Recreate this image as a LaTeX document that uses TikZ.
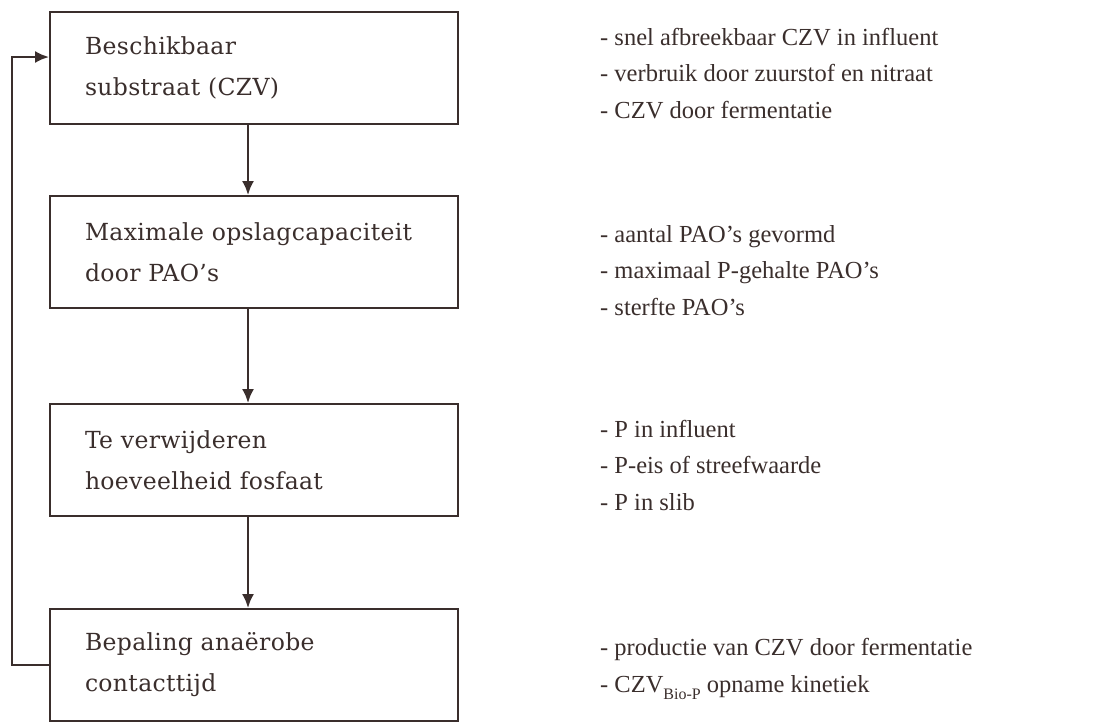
\documentclass[tikz,border=0pt]{standalone}
\usepackage{fontspec}
\setmainfont{Liberation Serif}
\newfontfamily\boxfont[LetterSpace=1.5]{DejaVu Serif}
\usetikzlibrary{arrows.meta}
\definecolor{ink}{RGB}{58,46,44}
\newcommand{\laagschrift}[1]{\raisebox{-0.3em}{\fontsize{16}{16}\selectfont #1}}
\begin{document}
\begin{tikzpicture}[x=1pt, y=-1pt, >={Latex[length=14pt,width=12pt]},
  box/.style={draw=ink, line width=1.8pt, rectangle, minimum height=112pt,
    text width=338pt, inner xsep=35pt, align=left, text=ink,
    font=\boxfont\fontsize{23.5}{41}\selectfont},
  notes/.style={anchor=base west, align=left, inner sep=0pt, text=ink,
    font=\fontsize{24.5}{36.5}\selectfont},
  flow/.style={->, draw=ink, line width=2.4pt}]
  \useasboundingbox (0,0) rectangle (1108,721);
  % stappen
  \node[box] (subst) at (254,68) {Beschikbaar\\substraat (CZV)};
  \node[box] (opslag) at (254,252) {Maximale opslagcapaciteit\\door PAO’s};
  \node[box] (fosfaat) at (254,460) {Te verwijderen\\hoeveelheid fosfaat};
  \node[box] (contact) at (254,665) {Bepaling anaërobe\\contacttijd};

  % pijlen
  \draw[flow] ([xshift=-6pt]subst.south) -- ([xshift=-6pt]opslag.north);
  \draw[flow] ([xshift=-6pt]opslag.south) -- ([xshift=-6pt]fosfaat.north);
  \draw[flow] ([xshift=-6pt]fosfaat.south) -- ([xshift=-6pt]contact.north);
  % terugkoppeling
  \draw[flow] (contact.west) -- ++(-37,0) |- ([yshift=11pt]subst.west);

  % factoren
  \node[notes] (n1) at (600,118) {- snel afbreekbaar CZV in influent\\- verbruik door zuurstof en nitraat\\- CZV door fermentatie};
  \node[notes] (n2) at (600,315) {- aantal PAO’s gevormd\\- maximaal P-gehalte PAO’s\\- sterfte PAO’s};
  \node[notes] (n3) at (600,510) {- P in influent\\- P-eis of streefwaarde\\- P in slib};
  \node[notes] (n4) at (600,692) {- productie van CZV door fermentatie\\- CZV\laagschrift{Bio-P} opname kinetiek};
\end{tikzpicture}
\end{document}
